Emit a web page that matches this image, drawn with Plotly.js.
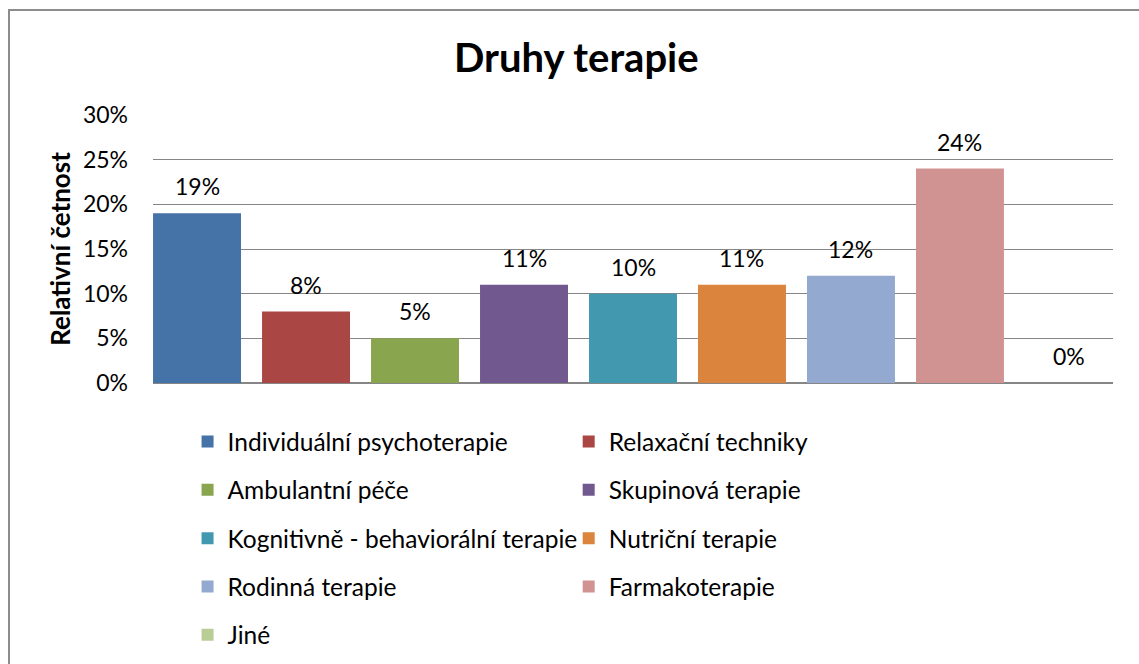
<!DOCTYPE html>
<html>
<head>
<meta charset="utf-8">
<script src="https://cdn.plot.ly/plotly-3.0.1.min.js"></script>
<style>
html,body{margin:0;padding:0;background:#fff;}
#chart{width:1139px;height:664px;}
</style>
</head>
<body>
<div id="chart"></div>
<script>
const categories = [
  "Individuální psychoterapie",
  "Relaxační techniky",
  "Ambulantní péče",
  "Skupinová terapie",
  "Kognitivně - behaviorální terapie",
  "Nutriční terapie",
  "Rodinná terapie",
  "Farmakoterapie",
  "Jiné"
];
const values = [0.19, 0.08, 0.05, 0.11, 0.10, 0.11, 0.12, 0.24, 0.00];
const colors = ["#4572A7","#AA4643","#89A54E","#71588F","#4198AF","#DB843D","#93A9CF","#D19392","#B9CD96"];
const yTickVals = [0, 0.05, 0.10, 0.15, 0.20, 0.25, 0.30];

const FONT = "Lato, 'Open Sans', sans-serif";

const traces = categories.map((name, i) => ({
  type: "bar",
  name: name,
  x: [i],
  y: [values[i]],
  width: 0.807,
  marker: {color: colors[i]},
  legend: (i % 2 === 0) ? "legend" : "legend2",
  legendgroup: "g" + i,
  hoverinfo: "skip"
}));

const annotations = categories.map((name, i) => ({
  x: i, y: values[i], xref: "x", yref: "y",
  text: Math.round(values[i] * 100) + "%",
  showarrow: false, yanchor: "middle", yshift: 27,
  font: {family: FONT, size: 23, color: "#000"}
}));

const legendCommon = {
  orientation: "v",
  yref: "container", y: 1 - 419/664, yanchor: "top",
  itemwidth: 30,
  tracegroupgap: 13.5,
  traceorder: "grouped",
  bgcolor: "rgba(0,0,0,0)",
  font: {family: FONT, size: 24.5, color: "#000"}
};

const layout = {
  width: 1139, height: 664,
  margin: {l: 153, r: 26, t: 115, b: 281, autoexpand: false},
  paper_bgcolor: "#fff", plot_bgcolor: "#fff",
  barmode: "overlay",
  showlegend: true,
  title: {
    text: "<b>Druhy terapie</b>",
    x: 0.506, xanchor: "center",
    y: 1 - 58/664, yref: "container", yanchor: "middle",
    font: {family: FONT, size: 40, color: "#000"}
  },
  xaxis: {
    range: [-0.404, 8.404],
    showticklabels: false, showgrid: false, zeroline: false, showline: false, ticks: ""
  },
  yaxis: {
    range: [0, 0.30],
    tickvals: yTickVals,
    tickformat: ".0%",
    showgrid: true, gridcolor: "#868686", gridwidth: 1,
    zeroline: true, zerolinecolor: "#868686", zerolinewidth: 1.5,
    showline: false, ticks: "",
    ticklabelstandoff: 24,
    tickfont: {family: FONT, size: 23, color: "#000"},
    title: {
      text: "<b>Relativní četnost</b>",
      standoff: 4,
      font: {family: FONT, size: 26, color: "#000"}
    }
  },
  legend: Object.assign({}, legendCommon, {x: 0.036, xanchor: "left"}),
  legend2: Object.assign({}, legendCommon, {x: 0.433, xanchor: "left"}),
  annotations: annotations,
  shapes: [{
    type: "rect", xref: "paper", yref: "paper",
    x0: -0.15, x1: 1.2, y0: -2, y1: 1 + (115 - 10)/268,
    line: {color: "#8c8c8c", width: 2}, fillcolor: "rgba(0,0,0,0)", layer: "below"
  }]
};

Plotly.newPlot("chart", traces, layout, {staticPlot: true, displayModeBar: false});
</script>
</body>
</html>
